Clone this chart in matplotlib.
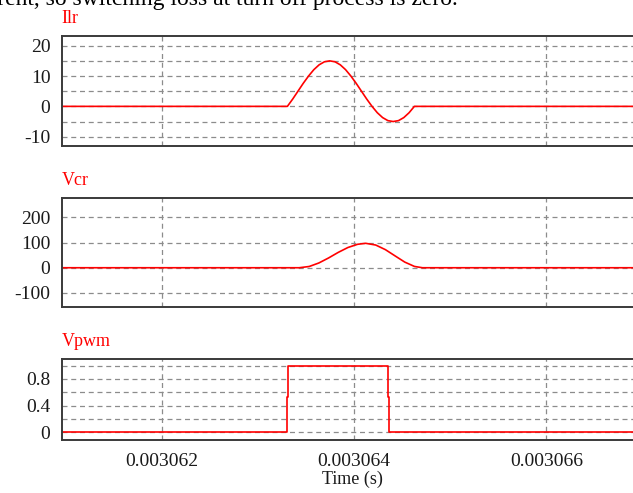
import numpy as np
import matplotlib
matplotlib.use("Agg")
import matplotlib.pyplot as plt

plt.rcParams['font.family'] = ['Liberation Serif', 'DejaVu Serif']

# time axis (microseconds, converted to seconds below)
x_lim_us = [3060.96, 3067.0]
time_ticks_us = [3062.0, 3064.0, 3066.0]
time_tick_labels = ["0.003062", "0.003064", "0.003066"]

# Ilr (A)
ilr_t_us = [3060.96, 3063.308, 3063.363, 3063.418, 3063.473, 3063.528, 3063.583, 3063.638,
            3063.693, 3063.748, 3063.803, 3063.858, 3063.913, 3063.968, 3064.023, 3064.078,
            3064.133, 3064.188, 3064.243, 3064.298, 3064.353, 3064.408, 3064.463, 3064.518,
            3064.573, 3064.628, 3067.0]
ilr_vals = [0, 0, 2.4, 5.0, 7.6, 10.0, 12.1, 13.7, 14.7, 15.0, 14.7, 13.7, 12.1, 10.0, 7.6,
            5.0, 2.4, 0, -2.1, -3.7, -4.7, -5.0, -4.7, -3.7, -2.1, 0, 0]

# Vcr (V)
vcr_t_us = [3060.96, 3063.430, 3063.535, 3063.635, 3063.736, 3063.836, 3063.937, 3064.038,
            3064.122, 3064.226, 3064.327, 3064.428, 3064.528, 3064.629, 3064.712, 3067.0]
vcr_vals = [0, 0, 5.0, 18.9, 38.8, 60.8, 80.3, 93.1, 97.0, 90.2, 71.8, 46.9, 22.5, 5.2, 0, 0]

# Vpwm
vpwm_t_us = [3060.96, 3063.300, 3063.300, 3063.311, 3063.311, 3064.355, 3064.355,
             3064.366, 3064.366, 3067.0]
vpwm_vals = [0, 0, 0.53, 0.53, 1.0, 1.0, 0.53, 0.53, 0, 0]

panels = [
    ("Ilr", ilr_t_us, ilr_vals, (-12.9, 23.3), [-10, 0, 10, 20], [-5, 5, 15]),
    ("Vcr", vcr_t_us, vcr_vals, (-154.6, 278), [-100, 0, 100, 200], []),
    ("Vpwm", vpwm_t_us, vpwm_vals, (-0.116, 1.10), [0, 0.4, 0.8], [0.2, 0.6, 1.0]),
]
ytick_labels = [["-10", "0", "10", "20"], ["-100", "0", "100", "200"], ["0", "0.4", "0.8"]]

W, H = 633, 493
# (top, bottom) in pixels
boxes = [(35.7, 145.5), (197.7, 306.7), (359.0, 440.0)]
left_px = 61.5
width_px = (x_lim_us[1] - x_lim_us[0]) * 96.2

fig = plt.figure(figsize=(W / 100, H / 100), dpi=100)

fig.text(458 / W, 1 - 5 / H, "current, so switching loss at turn off process is zero.",
         fontsize=17, ha="right", va="baseline", color="black")

grid_kw = dict(color="#8c8c8c", linestyle=(0, (4, 3)), linewidth=0.9)

for i, (name, t_us, vals, ylim, yt, ymin) in enumerate(panels):
    top, bot = boxes[i]
    ax = fig.add_axes([left_px / W, 1 - bot / H, width_px / W, (bot - top) / H])
    t = np.array(t_us) * 1e-6
    ax.plot(t, vals, color="#ff0000", linewidth=1.2)
    ax.set_xlim(x_lim_us[0] * 1e-6, x_lim_us[1] * 1e-6)
    ax.set_ylim(*ylim)
    ax.set_xticks([v * 1e-6 for v in time_ticks_us])
    ax.set_yticks(yt)
    ax.set_yticklabels(ytick_labels[i])
    ax.set_yticks(ymin, minor=True)
    ax.grid(True, which="both", **grid_kw)
    ax.set_axisbelow(True)
    ax.tick_params(which="both", length=0)
    ax.tick_params(axis="y", labelsize=14, pad=8, colors="#1a1a1a")
    for s in ax.spines.values():
        s.set_color("#3a3a3a")
        s.set_linewidth(1.4)
    if i < 2:
        ax.set_xticklabels([])
    else:
        ax.set_xticklabels(time_tick_labels)
        ax.tick_params(axis="x", labelsize=14, pad=9, colors="#1a1a1a")
        ax.set_xlabel("Time (s)", fontsize=13, labelpad=1, color="#1a1a1a")
    fig.text(left_px / W, 1 - (top - 17) / H, name, color="#ff0000", fontsize=13,
             ha="left", va="center")

fig.savefig("out.png", dpi=100)
